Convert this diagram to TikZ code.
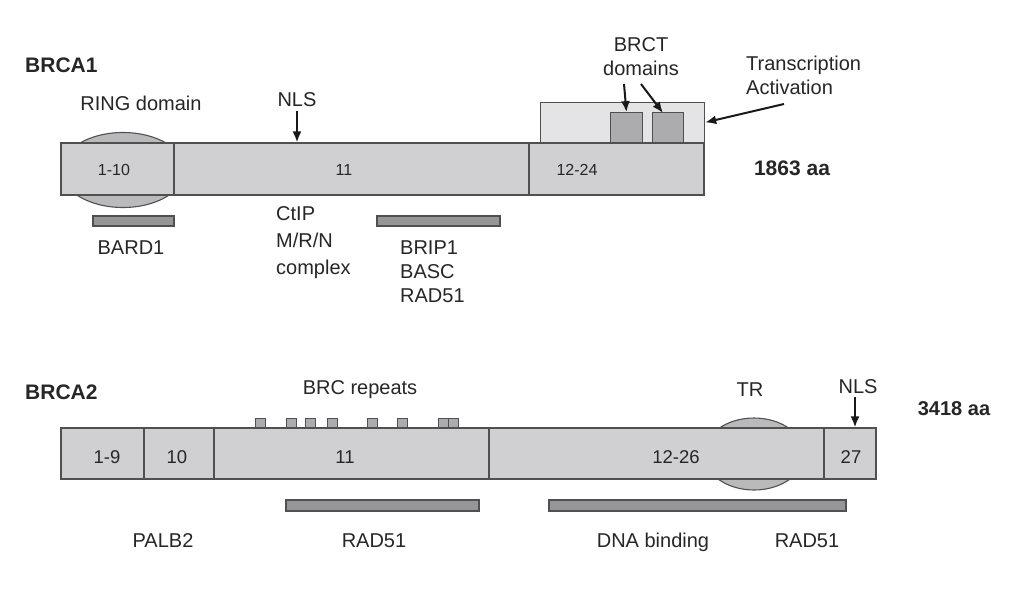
\documentclass[tikz,border=0pt]{standalone}
\usepackage{fontspec}
\setmainfont{Liberation Sans}
\usetikzlibrary{arrows.meta,shapes.geometric}
\definecolor{barfill}{RGB}{208,208,211}
\definecolor{ellfill}{RGB}{186,186,188}
\definecolor{tafill}{RGB}{228,228,230}
\definecolor{brctfill}{RGB}{172,172,175}
\definecolor{bindfill}{RGB}{150,150,152}
\definecolor{edge}{RGB}{80,80,83}
\tikzset{
  seg/.style={draw=edge,fill=barfill,line width=1.2pt,inner sep=0pt,rectangle},
  ell/.style={draw=edge,fill=ellfill,line width=1.1pt,ellipse,inner sep=0pt},
  bind/.style={draw=edge,fill=bindfill,line width=1.1pt,inner sep=0pt,rectangle,minimum height=10pt},
  brc/.style={draw=edge,fill=brctfill,line width=0.9pt,inner sep=0pt,rectangle,minimum width=10pt,minimum height=9pt},
  big/.style={font=\fontsize{20}{24}\selectfont,inner sep=0pt,text=black!85},
  bigb/.style={font=\fontsize{21}{24}\selectfont\bfseries,inner sep=0pt,text=black!85},
  small/.style={font=\fontsize{16}{19}\selectfont,inner sep=0pt,text=black!85},
  mid/.style={font=\fontsize{18.5}{22}\selectfont,inner sep=0pt,text=black!85},
  arr/.style={-{Latex[length=11pt,width=9pt]},line width=2pt,black!90}
}
\begin{document}
\begin{tikzpicture}[x=1pt,y=-1pt]
\useasboundingbox (0,0) rectangle (1024,611);
\fill[white] (0,0) rectangle (1024,611);

% ---------------- BRCA1 ----------------
\node[bigb,anchor=west] (brca1) at (25,65) {BRCA1};
\node[ell,minimum width=124pt,minimum height=75pt] (ring) at (123,170) {};
\node[seg,minimum width=113pt,minimum height=52pt] (a110) at (117.5,169) {};
\node[seg,minimum width=355pt,minimum height=52pt] (a11) at (351.5,169) {};
\node[seg,minimum width=175pt,minimum height=52pt] (a1224) at (616.5,169) {};
\node[seg,fill=tafill,minimum width=164pt,minimum height=40pt,anchor=south west] (tbox) at (540,143) {};
\node[brc,minimum width=32pt,minimum height=30pt,anchor=south west] (b1) at (610,143) {};
\node[brc,minimum width=31pt,minimum height=30pt,anchor=south west] (b2) at (652,143) {};
\node[small] (l110) at (114,170) {1-10};
\node[small] (l11) at (344,170) {11};
\node[small] (l1224) at (577,170) {12-24};

\node[big] (ringlbl) at (141,103) {RING domain};
\node[big] (nls1) at (297,100) {NLS};
\draw[arr] (nls1.south) ++(0,4) coordinate (n1s) -- (n1s |- a11.north);

\node[big,align=center] (brct) at (641,57) {BRCT\\[0pt]domains};
\coordinate (bs1) at (624,84);
\coordinate (bs2) at (641,84);
\draw[arr] (bs1) -- (b1.north);
\draw[arr] (bs2) -- (663,113);

\node[big,align=left,anchor=west] (ta) at (746,75) {Transcription\\[0pt]Activation};
\coordinate (tas) at (784,104);
\draw[arr] (tas) -- (tbox.east);

\node[bigb] (aa1) at (792,168) {1863 aa};

\node[bind,minimum width=81pt] (bard) at (133.5,221) {};
\node[big] (bardl) at (131,248) {BARD1};
\node[big,align=left,anchor=north west] (ctip) at (276,206) {CtIP\\[3pt]M/R/N\\[3pt]complex};
\node[bind,minimum width=123pt] (brip) at (438.5,221) {};
\node[big,align=left,anchor=north west] (bripl) at (400,241) {BRIP1\\[0pt]BASC\\[0pt]RAD51};

% ---------------- BRCA2 ----------------
\node[bigb,anchor=west] (brca2) at (25,392) {BRCA2};
\node[big] (brcl) at (360,390) {BRC repeats};
\node[ell,minimum width=100pt,minimum height=72pt] (tr) at (754,454) {};
\node[seg,minimum width=83pt,minimum height=51pt] (c19) at (102.5,453.5) {};
\node[seg,minimum width=70pt,minimum height=51pt] (c10) at (179,453.5) {};
\node[seg,minimum width=275pt,minimum height=51pt] (c11) at (351.5,453.5) {};
\node[seg,minimum width=335pt,minimum height=51pt] (c1226) at (656.5,453.5) {};
\node[seg,minimum width=52pt,minimum height=51pt] (c27) at (850,453.5) {};
\foreach \i/\xx in {1/260,2/291,3/310,4/332,5/372,6/402,7/443,8/453}
  \node[brc,anchor=south] (r\i) at (\xx,428) {};
\node[mid] (l19) at (107,457) {1-9};
\node[mid] (l10) at (177,457) {10};
\node[mid] (l11b) at (345,457) {11};
\node[mid] (l1226) at (676,457) {12-26};
\node[mid] (l27) at (851,457) {27};

\node[big] (trl) at (750,390) {TR};
\node[big] (nls2) at (858,387) {NLS};
\draw[arr] (nls2.south) ++(-3,3) coordinate (n2s) -- (n2s |- c27.north);
\node[bigb,font=\fontsize{20}{24}\selectfont\bfseries] (aa2) at (954,409) {3418 aa};

\node[bind,minimum width=193pt,minimum height=11pt] (rad1) at (382.5,505.5) {};
\node[bind,minimum width=297pt,minimum height=11pt] (dna) at (697.5,505.5) {};
\node[big] (palb) at (163,541) {PALB2};
\node[big] (radl) at (374,541) {RAD51};
\node[big] (dnal) at (653,542) {DNA binding};
\node[big] (rad2) at (807,541) {RAD51};
\end{tikzpicture}
\end{document}
